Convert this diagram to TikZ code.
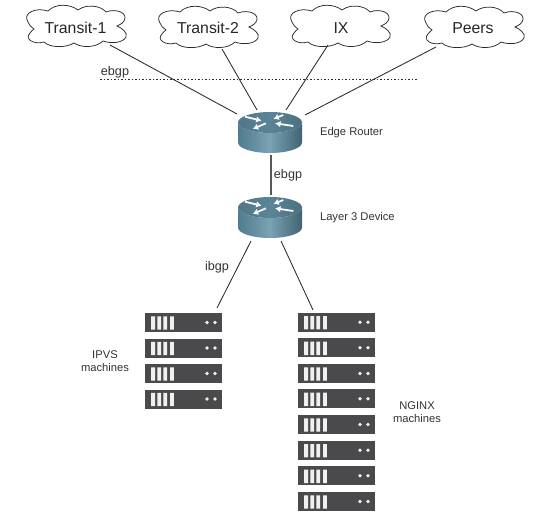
\documentclass[tikz,border=0pt]{standalone}
\usepackage{fontspec}
\setmainfont{Liberation Sans}
\usetikzlibrary{arrows.meta}
\definecolor{routertop}{HTML}{5A8496}
\definecolor{routerside}{HTML}{7AA2B2}
\definecolor{routerdark}{HTML}{4F7C90}
\definecolor{srv}{HTML}{4A4A4C}
\definecolor{ln}{HTML}{2A2A2A}
\tikzset{
  x=1pt,y=-1pt,
  link/.style={draw=ln,line width=0.85pt},
  cloudline/.style={draw=ln,line width=0.75pt},
  cloudtext/.style={font=\fontsize{15.8}{18}\selectfont,text=black!85},
  small/.style={font=\fontsize{11.2}{13.5}\selectfont,text=black!80,align=center},
  mid/.style={font=\fontsize{12.6}{14}\selectfont,text=black!80},
}
\newcommand{\cloudat}[2]{%
  \draw[cloudline,shift={(#1,#2)}]
    (-48,-5) .. controls (-54,-14) and (-40,-20) .. (-28,-16)
    .. controls (-20,-24) and (-6,-23) .. (2,-17)
    .. controls (10,-23) and (24,-22) .. (30,-15)
    .. controls (40,-19) and (53,-14) .. (48,-6)
    .. controls (46,-3) and (43,-2) .. (41,-1)
    .. controls (46,1) and (52,6) .. (50,10)
    .. controls (47,16) and (35,17) .. (27,14)
    .. controls (20,21) and (5,21) .. (-2,16)
    .. controls (-10,21) and (-26,21) .. (-32,15)
    .. controls (-42,18) and (-52,12) .. (-46,6)
    .. controls (-45,4) and (-43,3) .. (-42,2)
    .. controls (-45,0) and (-47,-2) .. (-48,-5) -- cycle;}
\newcommand{\routerat}[2]{%
  \begin{scope}[shift={(#1,#2)}]
    \shade[left color=routerdark,right color=routerdark!80!black,middle color=routerside]
      (-32,0) -- (-32,20) arc[x radius=32,y radius=10.5,start angle=180,end angle=0] -- (32,0) arc[x radius=32,y radius=10.5,start angle=0,end angle=180] -- cycle;
    \shade[left color=routertop!90!black,right color=routertop!85!black,middle color=routertop] (0,0) ellipse[x radius=32,y radius=10.5];
    \begin{scope}[white!95!routertop,line width=1.8pt,-{Latex[length=5.5pt,width=6.5pt]}]
      \draw (-25,-5.8) -- (-8.3,-1.8);
      \draw (13.3,-7.5) -- (3.3,-3.5);
      \draw (23.3,3.5) -- (5,0.8);
      \draw (-4,0.8) -- (-17.3,6.5);
    \end{scope}
  \end{scope}}
\newcommand{\serverat}[2]{%
  \begin{scope}[shift={(#1,#2)}]
    \fill[srv] (0,0) rectangle (77,19);
    \fill[white!94!black] (6,3.3) rectangle +(4,13.4) (12.3,3.3) rectangle +(3.8,13.4)
      (18.4,3.3) rectangle +(3.8,13.4) (25,3.3) rectangle +(3.8,13.4);
    \fill[white!94!black] (62,9.5) circle (1.9) (70,9.5) circle (1.9);
  \end{scope}}
\begin{document}
\begin{tikzpicture}
\useasboundingbox (0,0) rectangle (540,521);
\fill[white] (0,0) rectangle (540,521);
\cloudat{76}{27}\cloudat{208}{28}\cloudat{340}{27}\cloudat{474}{28}
\node[cloudtext] (t1) at (75.5,28) {Transit-1};
\node[cloudtext] (t2) at (208,28) {Transit-2};
\node[cloudtext] (ix) at (341,28) {IX};
\node[cloudtext] (peers) at (473,28) {Peers};
\coordinate (t1b) at (110,45);
\coordinate (t2b) at (222,49);
\coordinate (ixb) at (328,45);
\coordinate (pb) at (436,47);
\coordinate (r1a) at (237,114);
\coordinate (r1b) at (257,110);
\coordinate (r1c) at (286,110);
\coordinate (r1d) at (305,115);
\coordinate (dl) at (100,79);
\coordinate (dr) at (417,79);
\draw[ln,line width=0.9pt,dash pattern=on 1.6pt off 1.9pt] (dl) -- (dr);
\draw[link] (t1b) -- (r1a);
\draw[link] (t2b) -- (r1b);
\draw[link] (ixb) -- (r1c);
\draw[link] (pb) -- (r1d);
\routerat{270}{122.5}
\routerat{270}{207.5}
\coordinate (r1s) at (271,155);
\coordinate (r2n) at (271,195);
\draw[draw=black!65,line width=1.1pt] (r1s) -- (r2n);
\coordinate (r2a) at (251,241);
\coordinate (r2b) at (281,241);
\coordinate (s1) at (217,308);
\coordinate (s2) at (313,310);
\draw[link] (r2a) -- (s1);
\draw[link] (r2b) -- (s2);
\node[small,anchor=west] (er) at (316.5,133) {Edge Router};
\node[small,anchor=west] (l3) at (316.5,218) {Layer 3 Device};
\node[mid] (e2) at (288,175.5) {ebgp};
\node[mid] (e1) at (115,72.5) {ebgp};
\node[mid] (ib) at (217,267) {ibgp};
\node[small] (ipvs) at (105,361) {IPVS\\machines};
\node[small] (nginx) at (417,412) {NGINX\\machines};
\foreach \y in {313,338.5,364,389.5} {\serverat{145}{\y}}
\foreach \y in {312.7,338.3,364,389.3,415,440.7,466.3,492} {\serverat{298}{\y}}
\end{tikzpicture}
\end{document}
